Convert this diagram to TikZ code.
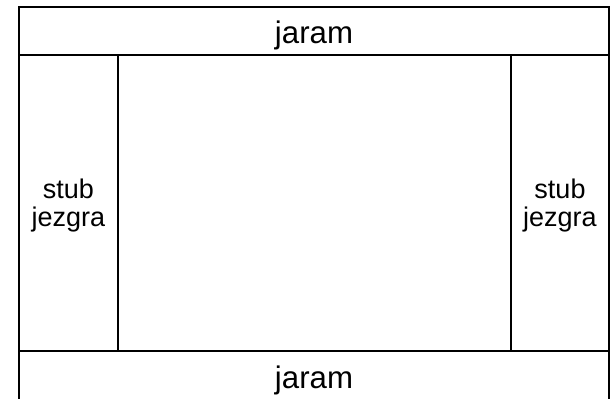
\documentclass[tikz,border=0pt]{standalone}
\usepackage{fontspec}
\setmainfont{Liberation Sans}

\begin{document}
\begin{tikzpicture}[x=0.5pt,y=-0.5pt,line width=1pt,
    bandtext/.style={font=\fontsize{15.6}{18}\selectfont},
    stubtext/.style={font=\fontsize{13.5}{14}\selectfont,align=center}]
  \useasboundingbox (0,0) rectangle (612,399);

  % outer frame and bands
  \draw (19,7) rectangle (609,400);
  \draw (19,55) -- (609,55);
  \draw (19,351) -- (609,351);

  % side columns
  \draw (118,55) -- (118,351);
  \draw (511,55) -- (511,351);

  % labels
  \node[bandtext] (top) at (314,35) {jaram};
  \node[bandtext] (bottom) at (314,380) {jaram};
  \node[stubtext] (left) at (68.5,206) {stub\\jezgra};
  \node[stubtext] (right) at (560,206) {stub\\jezgra};
\end{tikzpicture}
\end{document}
